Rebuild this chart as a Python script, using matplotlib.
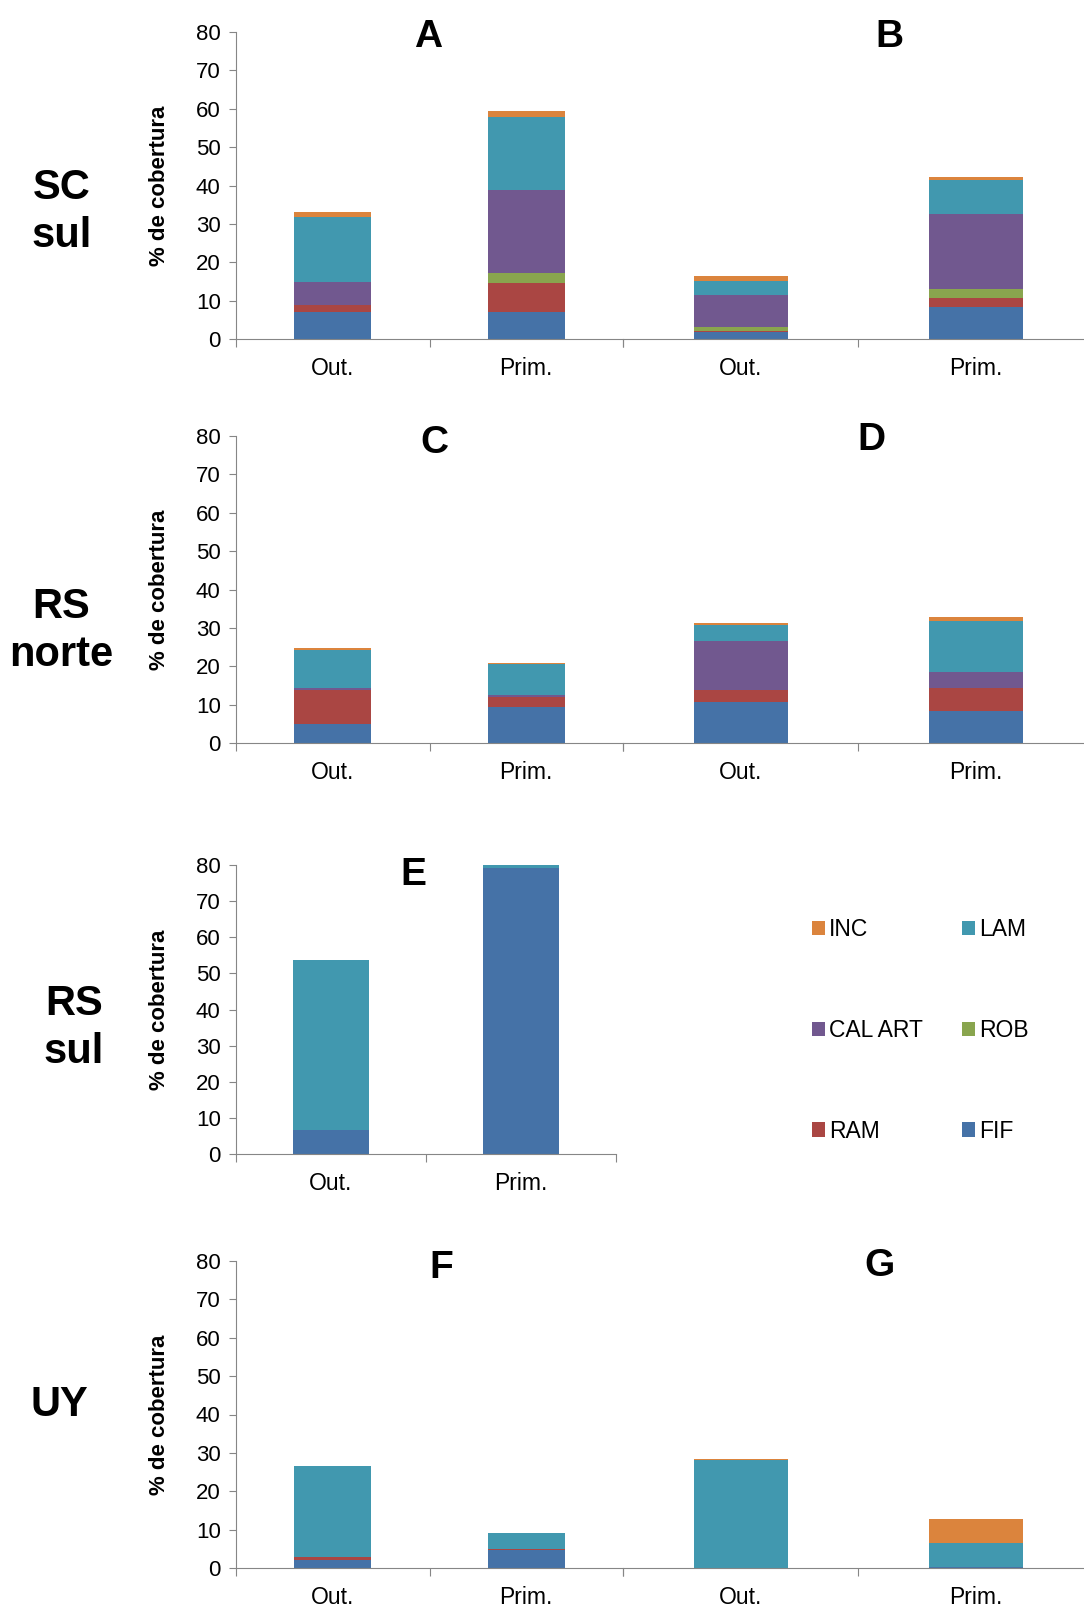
import matplotlib
matplotlib.use("Agg")
import matplotlib.pyplot as plt
from matplotlib.patches import Patch

plt.rcParams['font.family'] = ['Liberation Sans', 'DejaVu Sans']

# bars in drawing order: panel letter + category
panels = ['A', 'A', 'B', 'B', 'C', 'C', 'D', 'D', 'E', 'E', 'F', 'F', 'G', 'G']
categories = ['Out.', 'Prim.']

# stacked series (bottom to top), % de cobertura
FIF = [7.0, 7.0, 1.8, 8.3, 4.9, 9.5, 10.6, 8.3, 6.6, 79.2, 2.1, 4.6, 0.0, 0.35]
RAM = [1.9, 7.6, 0.4, 2.4, 9.0, 2.6, 3.2, 6.0, 0.0, 0.0, 0.8, 0.35, 0.0, 0.0]
ROB = [0.0, 2.5, 0.8, 2.3, 0.0, 0.0, 0.0, 0.0, 0.0, 0.0, 0.0, 0.0, 0.0, 0.0]
CAL_ART = [6.0, 21.6, 8.5, 19.6, 0.5, 0.5, 12.7, 4.2, 0.0, 0.0, 0.0, 0.0, 0.0, 0.0]
LAM = [16.8, 19.1, 3.7, 8.8, 9.9, 7.9, 4.3, 13.2, 47.0, 0.9, 23.7, 4.3, 28.1, 6.05]
INC = [1.4, 1.5, 1.2, 0.8, 0.5, 0.4, 0.4, 1.1, 0.0, 0.0, 0.0, 0.0, 0.35, 6.25]

series = [('FIF', FIF, '#4572A7'), ('RAM', RAM, '#AA4643'), ('ROB', ROB, '#89A54E'),
          ('CAL ART', CAL_ART, '#71588F'), ('LAM', LAM, '#4198AF'), ('INC', INC, '#DB843D')]

row_labels = ['SC\nsul', 'RS\nnorte', 'RS\nsul', 'UY']

W, H = 1084, 1607
fig = plt.figure(figsize=(W / 100, H / 100), dpi=100)


def rect(left, top, right, bottom):
    return [left / W, 1 - bottom / H, (right - left) / W, (bottom - top) / H]


# pixel boxes of each panel: (left, top, right, bottom, show y axis)
rows = [(32, 339), (436, 743), (865, 1154), (1261, 1568)]
boxes = {
    'A': (236, rows[0][0], 623, rows[0][1], True),
    'B': (623, rows[0][0], 1093, rows[0][1], False),
    'C': (236, rows[1][0], 623, rows[1][1], True),
    'D': (623, rows[1][0], 1093, rows[1][1], False),
    'E': (236, rows[2][0], 616, rows[2][1], True),
    'F': (236, rows[3][0], 623, rows[3][1], True),
    'G': (623, rows[3][0], 1093, rows[3][1], False),
}
letter_pos = {'A': (428, 37), 'B': (889, 37), 'C': (434, 443), 'D': (871, 440),
              'E': (413, 875), 'F': (441, 1268), 'G': (879, 1266)}
axis_grey = '#868686'

for p, (l, t, r, b, show_y) in boxes.items():
    ax = fig.add_axes(rect(l, t, r, b))
    ax.set_facecolor('none')
    idx = [i for i, q in enumerate(panels) if q == p]
    x = list(range(len(idx)))
    bottom = [0.0] * len(idx)
    for name, vals, col in series:
        v = [vals[i] for i in idx]
        ax.bar(x, v, width=0.4, bottom=bottom, color=col, linewidth=0)
        bottom = [a + c for a, c in zip(bottom, v)]
    ax.set_xlim(-0.5, 1.5)
    ax.set_ylim(0, 80)
    ax.spines['top'].set_visible(False)
    ax.spines['right'].set_visible(False)
    ax.spines['bottom'].set_color(axis_grey)
    ax.spines['left'].set_color(axis_grey)
    ax.set_xticks([-0.5, 0.5, 1.5], ['', '', ''])
    ax.set_xticks(x, categories, minor=True)
    ax.tick_params(axis='x', which='major', direction='out', length=6, color=axis_grey)
    ax.tick_params(axis='x', which='minor', length=0, pad=13, labelsize=16.5)
    if show_y:
        ax.set_yticks(range(0, 81, 10))
        ax.tick_params(axis='y', direction='out', length=5, color=axis_grey, labelsize=16, pad=6)
        ax.set_ylabel('% de cobertura', fontsize=16, fontweight='bold')
        ax.yaxis.set_label_coords(-66 / (r - l), 0.5)
    else:
        ax.spines['left'].set_visible(False)
        ax.set_yticks([])
    lx, ly = letter_pos[p]
    fig.text(lx / W, 1 - ly / H, p, fontsize=28, fontweight='bold', ha='center', va='center')

# row labels on the left
row_pos = [(62, 212), (61, 631), (74, 1028), (59, 1405)]
for lab, (px, py) in zip(row_labels, row_pos):
    fig.text(px / W, 1 - py / H, lab, fontsize=30, fontweight='bold', ha='center',
             va='center', multialignment='center', linespacing=1.26)

# legend (row-wise: INC LAM / CAL ART ROB / RAM FIF)
colors = {n: c for n, _, c in series}
order = ['INC', 'CAL ART', 'RAM', 'LAM', 'ROB', 'FIF']
handles = [Patch(facecolor=colors[n], edgecolor='none', label=n) for n in order]
fig.legend(handles=handles, ncol=2, frameon=False, fontsize=16.5,
           loc='upper left', bbox_to_anchor=(812 / W, 1 - 918 / H),
           borderpad=0, borderaxespad=0, handlelength=0.55, handleheight=0.6,
           handletextpad=0.2, labelspacing=3.4, columnspacing=1.7)

fig.savefig('out.png', dpi=100)
